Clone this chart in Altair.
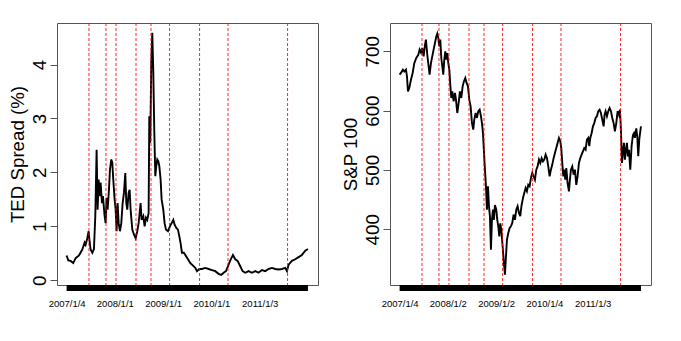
import altair as alt
import pandas as pd

FONT = "Liberation Sans"

# ---- TED spread (%) : decimal year / value ----
ted_years = [
    2007.002, 2007.037, 2007.085, 2007.140, 2007.189, 2007.258, 2007.327, 2007.375, 2007.396, 2007.430,
    2007.458, 2007.478, 2007.499, 2007.534, 2007.568, 2007.596, 2007.623, 2007.644, 2007.665, 2007.685,
    2007.706, 2007.734, 2007.754, 2007.789, 2007.810, 2007.830, 2007.851, 2007.879, 2007.899, 2007.927,
    2007.948, 2007.968, 2007.996, 2008.017, 2008.037, 2008.058, 2008.079, 2008.106, 2008.134, 2008.162,
    2008.189, 2008.217, 2008.238, 2008.258, 2008.286, 2008.307, 2008.327, 2008.362, 2008.396, 2008.431,
    2008.465, 2008.493, 2008.514, 2008.534, 2008.555, 2008.590, 2008.617, 2008.645, 2008.672, 2008.700,
    2008.714, 2008.734, 2008.755, 2008.776, 2008.797, 2008.817, 2008.838, 2008.859, 2008.879, 2008.900,
    2008.921, 2008.948, 2008.969, 2009.004, 2009.031, 2009.059, 2009.100, 2009.142, 2009.176, 2009.211,
    2009.238, 2009.273, 2009.307, 2009.335, 2009.362, 2009.390, 2009.431, 2009.473, 2009.521, 2009.563,
    2009.597, 2009.666, 2009.701, 2009.749, 2009.804, 2009.873, 2009.942, 2010.011, 2010.080, 2010.149,
    2010.204, 2010.253, 2010.301, 2010.342, 2010.391, 2010.446, 2010.494, 2010.542, 2010.598, 2010.646,
    2010.701, 2010.770, 2010.839, 2010.908, 2010.977, 2011.046, 2011.115, 2011.184, 2011.253, 2011.322,
    2011.391, 2011.460, 2011.529, 2011.564, 2011.598, 2011.667, 2011.736, 2011.805, 2011.874, 2011.943,
    2011.999,
]
ted_values = [
    0.46, 0.37, 0.36, 0.32, 0.41, 0.46, 0.57, 0.70, 0.66, 0.78,
    0.91, 0.72, 0.57, 0.51, 0.58, 1.19, 2.42, 1.31, 1.87, 1.56,
    1.81, 1.43, 1.56, 1.19, 1.06, 1.53, 1.31, 1.68, 2.05, 2.24,
    2.18, 1.87, 1.50, 1.31, 0.91, 1.43, 1.06, 0.91, 1.06, 1.43,
    1.62, 1.99, 1.43, 1.31, 1.62, 1.68, 1.31, 0.94, 0.85, 0.78,
    0.91, 1.06, 1.25, 1.43, 1.12, 1.19, 1.00, 1.16, 1.12, 1.25,
    3.04, 2.55, 4.03, 4.59, 3.85, 2.79, 1.93, 2.12, 2.24, 2.21,
    2.12, 1.87, 1.50, 1.31, 1.06, 0.94, 0.91, 1.00, 1.06, 1.12,
    1.03, 0.97, 0.94, 0.82, 0.69, 0.51, 0.51, 0.45, 0.38, 0.32,
    0.29, 0.23, 0.17, 0.21, 0.21, 0.23, 0.21, 0.19, 0.17, 0.12,
    0.10, 0.14, 0.17, 0.26, 0.37, 0.47, 0.39, 0.36, 0.26, 0.17,
    0.14, 0.17, 0.14, 0.17, 0.14, 0.19, 0.17, 0.21, 0.23, 0.21,
    0.20, 0.21, 0.23, 0.17, 0.29, 0.36, 0.39, 0.43, 0.47, 0.55,
    0.58,
]

# ---- S&P 100 : decimal year / value ----
sp_years = [
    2007.002, 2007.037, 2007.071, 2007.099, 2007.133, 2007.154, 2007.175, 2007.202, 2007.237, 2007.271,
    2007.306, 2007.347, 2007.389, 2007.416, 2007.444, 2007.471, 2007.499, 2007.527, 2007.547, 2007.575,
    2007.603, 2007.623, 2007.651, 2007.678, 2007.706, 2007.734, 2007.761, 2007.782, 2007.803, 2007.823,
    2007.844, 2007.865, 2007.886, 2007.906, 2007.927, 2007.948, 2007.968, 2007.989, 2008.010, 2008.031,
    2008.051, 2008.072, 2008.093, 2008.120, 2008.148, 2008.169, 2008.196, 2008.224, 2008.251, 2008.279,
    2008.307, 2008.334, 2008.362, 2008.389, 2008.417, 2008.445, 2008.472, 2008.500, 2008.527, 2008.548,
    2008.576, 2008.603, 2008.631, 2008.659, 2008.686, 2008.707, 2008.728, 2008.748, 2008.769, 2008.790,
    2008.810, 2008.831, 2008.852, 2008.872, 2008.893, 2008.914, 2008.935, 2008.955, 2008.976, 2009.004,
    2009.024, 2009.045, 2009.066, 2009.086, 2009.107, 2009.135, 2009.162, 2009.183, 2009.204, 2009.224,
    2009.252, 2009.280, 2009.307, 2009.335, 2009.362, 2009.390, 2009.418, 2009.445, 2009.473, 2009.500,
    2009.528, 2009.563, 2009.583, 2009.611, 2009.638, 2009.666, 2009.694, 2009.721, 2009.749, 2009.776,
    2009.804, 2009.832, 2009.859, 2009.887, 2009.915, 2009.942, 2009.970, 2009.997, 2010.025, 2010.053,
    2010.080, 2010.108, 2010.135, 2010.163, 2010.191, 2010.218, 2010.246, 2010.273, 2010.301, 2010.329,
    2010.349, 2010.370, 2010.391, 2010.411, 2010.432, 2010.453, 2010.480, 2010.508, 2010.529, 2010.549,
    2010.577, 2010.605, 2010.632, 2010.660, 2010.687, 2010.715, 2010.743, 2010.770, 2010.798, 2010.825,
    2010.853, 2010.881, 2010.908, 2010.929, 2010.950, 2010.977, 2011.005, 2011.032, 2011.060, 2011.088,
    2011.115, 2011.143, 2011.170, 2011.198, 2011.226, 2011.246, 2011.267, 2011.295, 2011.322, 2011.350,
    2011.378, 2011.405, 2011.433, 2011.460, 2011.488, 2011.516, 2011.543, 2011.564, 2011.578, 2011.591,
    2011.605, 2011.626, 2011.647, 2011.667, 2011.688, 2011.709, 2011.729, 2011.750, 2011.778, 2011.805,
    2011.833, 2011.854, 2011.874, 2011.902, 2011.923, 2011.943, 2011.964, 2011.985, 2011.999,
]
sp_values = [
    660.6, 664.5, 669.0, 666.0, 669.0, 658.0, 632.5, 638.0, 652.0, 663.0,
    680.0, 688.7, 694.0, 702.8, 698.0, 705.6, 691.5, 711.0, 719.6, 694.0,
    674.7, 660.6, 680.0, 691.5, 702.8, 714.0, 725.0, 729.7, 722.4, 708.4,
    719.6, 688.7, 674.7, 660.6, 686.0, 700.0, 686.0, 697.0, 680.0, 669.0,
    643.8, 621.3, 632.5, 615.7, 629.7, 618.5, 596.0, 612.8, 632.5, 621.3,
    641.0, 649.4, 655.0, 646.6, 641.0, 618.5, 607.3, 579.0, 568.0, 584.8,
    596.0, 587.7, 599.0, 601.6, 590.6, 579.0, 562.0, 531.4, 500.5, 472.5,
    433.0, 472.5, 438.8, 421.9, 365.7, 416.0, 433.0, 416.0, 441.0, 433.0,
    416.0, 405.0, 388.0, 410.0, 399.5, 371.0, 343.0, 323.5, 354.0, 382.0,
    393.9, 402.3, 405.0, 410.7, 424.8, 416.0, 433.0, 438.8, 427.6, 422.0,
    441.0, 455.0, 461.0, 469.5, 464.0, 475.0, 472.5, 486.5, 494.9, 489.3,
    483.6, 500.5, 506.0, 517.4, 511.8, 520.0, 514.6, 517.4, 525.9, 520.0,
    506.0, 489.3, 500.5, 509.0, 520.0, 528.7, 537.0, 545.6, 554.0, 548.4,
    537.0, 511.8, 489.3, 500.5, 483.6, 503.0, 478.0, 464.0, 483.6, 500.5,
    506.0, 492.0, 500.5, 475.0, 489.3, 511.8, 520.0, 525.9, 531.4, 537.0,
    534.2, 551.0, 554.0, 540.0, 554.0, 562.0, 573.5, 579.0, 587.7, 590.6,
    599.0, 601.6, 596.0, 584.8, 573.5, 593.0, 599.0, 590.6, 599.0, 604.5,
    599.0, 587.7, 579.0, 565.0, 579.0, 599.0, 593.0, 601.6, 579.0, 551.0,
    511.8, 528.7, 545.6, 517.4, 534.0, 545.6, 523.0, 534.0, 500.5, 540.0,
    559.0, 562.0, 554.0, 570.0, 556.0, 523.0, 551.0, 565.0, 573.5,
]

# ---- event dates (vertical dotted lines), decimal years ----
event_years = [2007.465, 2007.817, 2008.024, 2008.439, 2008.749,
               2009.134, 2009.755, 2010.343, 2011.577]

# ---- x tick labels ----
x_tick_years = [2007.002, 2008.000, 2009.000, 2010.000, 2011.000]
ted_x_labels = ["2007/1/4", "2008/1/1", "2009/1/1", "2010/1/1", "2011/1/3"]
sp_x_labels = ["2007/1/4", "2008/1/2", "2009/1/2", "2010/1/4", "2011/1/3"]

ted_y_ticks = [0, 1, 2, 3, 4]
sp_y_ticks = [400, 500, 600, 700]

X_DOMAIN = [2006.803, 2012.207]
TED_DOMAIN = [-0.087, 4.77]
SP_DOMAIN = [306.1, 747.7]

W, H = 261, 262


def label_expr(vals, labels):
    expr = ""
    for v, lab in zip(vals, labels):
        expr += f"abs(datum.value - {v}) < 0.01 ? '{lab}' : "
    return expr + "''"


def panel(years, values, ydom, yticks, ytitle, xlabels):
    df = pd.DataFrame({"year": years, "value": values})
    xscale = alt.Scale(domain=X_DOMAIN, nice=False, zero=False)
    xaxis = alt.Axis(
        values=x_tick_years, labelExpr=label_expr(x_tick_years, xlabels),
        ticks=False, tickSize=0, domain=False, grid=False, title=None,
        labelFontSize=9.5, labelFont=FONT, labelColor="black",
        labelPadding=18, labelBaseline="middle", labelAlign="center",
        labelOverlap=False, labelFlush=False,
    )
    x = alt.X("year:Q", scale=xscale, axis=xaxis)
    y = alt.Y(
        "value:Q", scale=alt.Scale(domain=ydom, nice=False, zero=False),
        axis=alt.Axis(
            values=yticks, ticks=True, tickSize=7, tickColor="#555555", tickWidth=1,
            domain=False, grid=False,
            labelAngle=270, labelAlign="center", labelBaseline="alphabetic",
            labelPadding=4.7, labelFontSize=18.7, labelFont=FONT, labelColor="black",
            labelOverlap=False, labelFlush=False,
            title=ytitle, titleFont=FONT, titleFontSize=18.7, titleFontWeight="normal",
            titleColor="black", titleAngle=270, titleBaseline="alphabetic",
            titleAlign="center", titleX=-33.7, titleY=H / 2,
        ),
    )
    line = alt.Chart(df).mark_line(color="black", strokeWidth=1.9).encode(x=x, y=y)
    rules = alt.Chart(pd.DataFrame({"year": event_years})).mark_rule(
        color="#ff0000", strokeDash=[3, 2], strokeWidth=1, opacity=0.85
    ).encode(x=x)
    bar = alt.Chart(pd.DataFrame({"year": [min(years)], "end": [max(years)]})).mark_rect(
        color="black"
    ).encode(
        x=x, x2="end:Q",
        y=alt.value(H), y2=alt.value(H + 6),
    )
    return alt.layer(line, rules, bar).properties(width=W, height=H)


left = panel(ted_years, ted_values, TED_DOMAIN, ted_y_ticks, "TED Spread (%)", ted_x_labels)
right = panel(sp_years, sp_values, SP_DOMAIN, sp_y_ticks, "S&P 100", sp_x_labels)

chart = (
    alt.hconcat(left, right, spacing=21)
    .properties(padding={"left": -1, "top": 14, "right": 5, "bottom": 5})
    .configure_view(stroke="#555555", strokeWidth=1)
)

chart.save("out.html", embed_options={"renderer": "svg", "actions": False})
